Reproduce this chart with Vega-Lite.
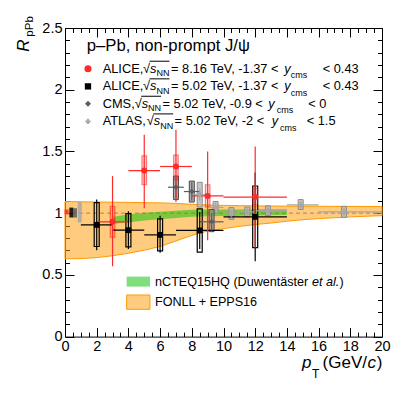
{
  "$schema": "https://vega.github.io/schema/vega-lite/v6.json",
  "width": 317,
  "height": 308.6,
  "autosize": "none",
  "padding": {"left": 65, "top": 28, "right": 25, "bottom": 59.4},
  "background": "white",
  "config": {
    "view": {"stroke": null},
    "font": "Liberation Sans",
    "axis": {"grid": false, "domainColor": "black", "tickColor": "black", "labelColor": "black", "labelFont": "Liberation Sans", "labelFontSize": 14.5, "domainWidth": 1, "tickWidth": 1}
  },
  "resolve": {"axis": {"x": "independent", "y": "independent"}},
  "datasets": {
    "one": [{}],
    "fonll": [
      {"pt": 0, "lo": 0.63, "hi": 1.094}, {"pt": 1, "lo": 0.632, "hi": 1.092}, {"pt": 2, "lo": 0.64, "hi": 1.09},
      {"pt": 3, "lo": 0.655, "hi": 1.089}, {"pt": 4, "lo": 0.675, "hi": 1.087}, {"pt": 5, "lo": 0.7, "hi": 1.085},
      {"pt": 6, "lo": 0.73, "hi": 1.083}, {"pt": 7, "lo": 0.775, "hi": 1.079}, {"pt": 8, "lo": 0.82, "hi": 1.072},
      {"pt": 9, "lo": 0.855, "hi": 1.066}, {"pt": 10, "lo": 0.875, "hi": 1.063}, {"pt": 11, "lo": 0.893, "hi": 1.061},
      {"pt": 12, "lo": 0.908, "hi": 1.059}, {"pt": 13, "lo": 0.92, "hi": 1.058}, {"pt": 14, "lo": 0.935, "hi": 1.057},
      {"pt": 15, "lo": 0.947, "hi": 1.056}, {"pt": 16, "lo": 0.956, "hi": 1.056}, {"pt": 17, "lo": 0.963, "hi": 1.055},
      {"pt": 18, "lo": 0.97, "hi": 1.055}, {"pt": 19, "lo": 0.975, "hi": 1.054}, {"pt": 20, "lo": 0.98, "hi": 1.054}
    ],
    "ncteq": [
      {"pt": 3, "lo": 0.912, "hi": 0.97}, {"pt": 4, "lo": 0.925, "hi": 0.99}, {"pt": 5, "lo": 0.94, "hi": 1.003},
      {"pt": 6, "lo": 0.95, "hi": 1.012}, {"pt": 7, "lo": 0.96, "hi": 1.02}, {"pt": 8, "lo": 0.97, "hi": 1.027},
      {"pt": 9, "lo": 0.975, "hi": 1.029}, {"pt": 10, "lo": 0.978, "hi": 1.03}, {"pt": 11, "lo": 0.98, "hi": 1.03},
      {"pt": 12, "lo": 0.982, "hi": 1.031}, {"pt": 13, "lo": 0.983, "hi": 1.032}, {"pt": 14, "lo": 0.985, "hi": 1.032}
    ],
    "norm": [
      {"series": "ALICE8", "pt": 0.1, "lo": 0.99, "hi": 1.03},
      {"series": "ALICE5", "pt": 0.4, "lo": 0.965, "hi": 1.045},
      {"series": "CMS", "pt": 0.63, "lo": 0.965, "hi": 1.04},
      {"series": "ATLAS", "pt": 0.93, "lo": 0.925, "hi": 1.09}
    ],
    "pts": [
      {"series": "ATLAS", "pt": 8.5, "xlo": 8, "xhi": 9, "r": 1.15, "slo": 1.1, "shi": 1.2, "ylo": 1.05, "yhi": 1.25},
      {"series": "ATLAS", "pt": 9.5, "xlo": 9, "xhi": 10, "r": 1.047, "slo": 1.01, "shi": 1.085, "ylo": 1.0, "yhi": 1.094},
      {"series": "ATLAS", "pt": 10.5, "xlo": 10, "xhi": 11, "r": 1.0, "slo": 0.97, "shi": 1.03, "ylo": 0.95, "yhi": 1.045},
      {"series": "ATLAS", "pt": 11.5, "xlo": 11, "xhi": 12, "r": 1.01, "slo": 0.98, "shi": 1.04, "ylo": 0.97, "yhi": 1.05},
      {"series": "ATLAS", "pt": 12.8, "xlo": 12, "xhi": 14, "r": 1.02, "slo": 0.99, "shi": 1.05, "ylo": 0.98, "yhi": 1.06},
      {"series": "ATLAS", "pt": 14.87, "xlo": 14, "xhi": 16, "r": 1.067, "slo": 1.04, "shi": 1.095, "ylo": 1.03, "yhi": 1.11},
      {"series": "ATLAS", "pt": 17.6, "xlo": 16, "xhi": 20, "r": 1.01, "slo": 0.98, "shi": 1.04, "ylo": 0.965, "yhi": 1.055},
      {"series": "CMS", "pt": 7.0, "xlo": 6.5, "xhi": 7.5, "r": 1.21, "slo": 1.11, "shi": 1.31, "ylo": 1.11, "yhi": 1.3},
      {"series": "CMS", "pt": 8.0, "xlo": 7.5, "xhi": 8.5, "r": 1.175, "slo": 1.1, "shi": 1.25, "ylo": 1.09, "yhi": 1.26},
      {"series": "CMS", "pt": 9.25, "xlo": 8.5, "xhi": 10, "r": 0.93, "slo": 0.86, "shi": 1.0, "ylo": 0.85, "yhi": 1.03},
      {"series": "ALICE5", "pt": 2, "xlo": 1, "xhi": 3, "r": 0.905, "slo": 0.7, "shi": 1.11, "ylo": 0.73, "yhi": 1.086},
      {"series": "ALICE5", "pt": 4, "xlo": 3, "xhi": 5, "r": 0.862, "slo": 0.71, "shi": 1.015, "ylo": 0.727, "yhi": 0.997},
      {"series": "ALICE5", "pt": 6, "xlo": 5, "xhi": 7, "r": 0.824, "slo": 0.68, "shi": 0.98, "ylo": 0.694, "yhi": 0.954},
      {"series": "ALICE5", "pt": 8.5, "xlo": 7, "xhi": 10, "r": 0.86, "slo": 0.71, "shi": 1.01, "ylo": 0.685, "yhi": 1.035},
      {"series": "ALICE5", "pt": 12, "xlo": 10, "xhi": 14, "r": 0.97, "slo": 0.61, "shi": 1.33, "ylo": 0.72, "yhi": 1.22},
      {"series": "ALICE8", "pt": 3, "xlo": 2, "xhi": 4, "r": 0.93, "slo": 0.57, "shi": 1.3, "ylo": 0.805, "yhi": 1.055},
      {"series": "ALICE8", "pt": 5, "xlo": 4, "xhi": 6, "r": 1.345, "slo": 1.04, "shi": 1.635, "ylo": 1.23, "yhi": 1.465},
      {"series": "ALICE8", "pt": 7, "xlo": 6, "xhi": 8, "r": 1.378, "slo": 1.09, "shi": 1.675, "ylo": 1.27, "yhi": 1.47},
      {"series": "ALICE8", "pt": 9, "xlo": 8, "xhi": 10, "r": 1.14, "slo": 0.78, "shi": 1.5, "ylo": 1.05, "yhi": 1.23},
      {"series": "ALICE8", "pt": 12, "xlo": 10, "xhi": 14, "r": 1.13, "slo": 0.72, "shi": 1.54, "ylo": 1.07, "yhi": 1.2}
    ],
    "legn": [
      {"x": 2.378, "y": 2.17, "t": "ALICE,"}, {"x": 4.921, "y": 2.17, "t": "√"}, {"x": 6.688, "y": 2.17, "t": "= 8.16 TeV, -1.37 <"}, {"x": 16.259, "y": 2.17, "t": "< 0.43"},
      {"x": 2.378, "y": 2.027, "t": "ALICE,"}, {"x": 4.921, "y": 2.027, "t": "√"}, {"x": 6.688, "y": 2.027, "t": "= 5.02 TeV, -1.37 <"}, {"x": 16.259, "y": 2.027, "t": "< 0.43"},
      {"x": 2.378, "y": 1.886, "t": "CMS,"}, {"x": 4.397, "y": 1.886, "t": "√"}, {"x": 6.151, "y": 1.886, "t": "= 5.02 TeV, -0.9 <"}, {"x": 15.35, "y": 1.886, "t": "< 0"},
      {"x": 2.378, "y": 1.743, "t": "ATLAS,"}, {"x": 5.158, "y": 1.743, "t": "√"}, {"x": 6.915, "y": 1.743, "t": "= 5.02 TeV, -2 <"}, {"x": 15.249, "y": 1.743, "t": "< 1.5"}
    ],
    "legi": [
      {"x": 5.363, "y": 2.17, "t": "s"}, {"x": 13.836, "y": 2.17, "t": "y"},
      {"x": 5.363, "y": 2.027, "t": "s"}, {"x": 13.836, "y": 2.027, "t": "y"},
      {"x": 4.839, "y": 1.886, "t": "s"}, {"x": 12.826, "y": 1.886, "t": "y"},
      {"x": 5.6, "y": 1.743, "t": "s"}, {"x": 13.041, "y": 1.743, "t": "y"}
    ],
    "legs": [
      {"x": 5.773, "y": 2.134, "t": "NN"}, {"x": 14.24, "y": 2.12, "t": "cms"},
      {"x": 5.773, "y": 1.991, "t": "NN"}, {"x": 14.24, "y": 1.977, "t": "cms"},
      {"x": 5.243, "y": 1.85, "t": "NN"}, {"x": 13.356, "y": 1.836, "t": "cms"},
      {"x": 6.006, "y": 1.707, "t": "NN"}, {"x": 13.565, "y": 1.693, "t": "cms"}
    ],
    "overl": [
      {"x": 5.331, "x2": 6.593, "y": 2.231},
      {"x": 5.331, "x2": 6.593, "y": 2.088},
      {"x": 4.808, "x2": 6.063, "y": 1.947},
      {"x": 5.571, "x2": 6.826, "y": 1.804}
    ],
    "bandn": [
      {"x": 5.68, "y": 0.445, "t": "nCTEQ15HQ (Duwentäster"}, {"x": 17.32, "y": 0.445, "t": ")"},
      {"x": 5.68, "y": 0.278, "t": "FONLL + EPPS16"}
    ],
    "bandi": [{"x": 15.58, "y": 0.445, "t": "et al."}],
    "xtn": [{"x": 16.25, "y": -0.255, "t": "(GeV/"}],
    "xti": [{"x": 14.95, "y": -0.255, "t": "p"}, {"x": 19.08, "y": -0.255, "t": "c"}]
  },
  "layer": [
    {
      "data": {"name": "one"},
      "mark": {"type": "rule", "color": "#8a8a8a", "strokeDash": [4, 3], "strokeWidth": 1.3},
      "encoding": {
        "x": {"datum": 0, "type": "quantitative", "axis": null},
        "x2": {"datum": 20},
        "y": {"datum": 1, "type": "quantitative", "axis": null}
      }
    },
    {
      "data": {"name": "fonll"},
      "mark": {"type": "area", "fill": "#ff9900", "fillOpacity": 0.5, "stroke": "#ff9900", "strokeWidth": 1},
      "encoding": {
        "x": {"field": "pt", "type": "quantitative", "scale": {"domain": [0, 20], "nice": false, "zero": false, "padding": 0},
              "axis": {"orient": "bottom", "title": null, "values": [0, 2, 4, 6, 8, 10, 12, 14, 16, 18, 20], "tickSize": -9, "labelPadding": 12, "format": "~g", "labelFlush": false}},
        "y": {"field": "lo", "type": "quantitative", "scale": {"domain": [0, 2.5], "nice": false, "zero": false, "padding": 0},
              "axis": {"orient": "left", "title": null, "values": [0, 0.5, 1, 1.5, 2, 2.5], "tickSize": -9, "labelPadding": 12, "format": "~g", "labelFlush": false}},
        "y2": {"field": "hi"}
      }
    },
    {
      "data": {"name": "ncteq"},
      "mark": {"type": "area", "fill": "#00c000", "fillOpacity": 0.5},
      "encoding": {
        "x": {"field": "pt", "type": "quantitative",
              "axis": {"orient": "bottom", "title": null, "values": [0.5,1,1.5,2.5,3,3.5,4.5,5,5.5,6.5,7,7.5,8.5,9,9.5,10.5,11,11.5,12.5,13,13.5,14.5,15,15.5,16.5,17,17.5,18.5,19,19.5], "tickSize": -4.5, "labels": false, "domain": false}},
        "y": {"field": "lo", "type": "quantitative",
              "axis": {"orient": "left", "title": null, "values": [0.1,0.2,0.3,0.4,0.6,0.7,0.8,0.9,1.1,1.2,1.3,1.4,1.6,1.7,1.8,1.9,2.1,2.2,2.3,2.4], "tickSize": -4.5, "labels": false, "domain": false}},
        "y2": {"field": "hi"}
      }
    },
    {
      "data": {"name": "norm"},
      "mark": {"type": "bar", "width": 4, "opacity": 0.85},
      "encoding": {
        "x": {"field": "pt", "type": "quantitative",
              "axis": {"orient": "top", "title": null, "values": [0, 2, 4, 6, 8, 10, 12, 14, 16, 18, 20], "tickSize": -9, "labels": false}},
        "y": {"field": "lo", "type": "quantitative",
              "axis": {"orient": "right", "title": null, "values": [0, 0.5, 1, 1.5, 2, 2.5], "tickSize": -9, "labels": false}},
        "y2": {"field": "hi"},
        "color": {"field": "series", "type": "nominal", "legend": null,
                  "scale": {"domain": ["ATLAS", "CMS", "ALICE5", "ALICE8"], "range": ["#a6a6a6", "#5c5c5c", "#000000", "#ff2a2a"]}}
      }
    },
    {
      "data": {"name": "pts"},
      "transform": [{"filter": "datum.series == 'ATLAS'"}],
      "mark": {"type": "bar", "width": 5, "fill": "#b8b8b8", "fillOpacity": 0.8, "stroke": "#8c8c8c", "strokeWidth": 1},
      "encoding": {
        "x": {"field": "pt", "type": "quantitative",
              "axis": {"orient": "top", "title": null, "values": [0.5,1,1.5,2.5,3,3.5,4.5,5,5.5,6.5,7,7.5,8.5,9,9.5,10.5,11,11.5,12.5,13,13.5,14.5,15,15.5,16.5,17,17.5,18.5,19,19.5], "tickSize": -4.5, "labels": false, "domain": false}},
        "y": {"field": "ylo", "type": "quantitative",
              "axis": {"orient": "right", "title": null, "values": [0.1,0.2,0.3,0.4,0.6,0.7,0.8,0.9,1.1,1.2,1.3,1.4,1.6,1.7,1.8,1.9,2.1,2.2,2.3,2.4], "tickSize": -4.5, "labels": false, "domain": false}},
        "y2": {"field": "yhi"}
      }
    },
    {
      "data": {"name": "pts"},
      "transform": [{"filter": "datum.series == 'CMS'"}],
      "mark": {"type": "bar", "width": 5, "fill": "#8c8c8c", "fillOpacity": 0.7, "stroke": "#4a4a4a", "strokeWidth": 1},
      "encoding": {
        "x": {"field": "pt", "type": "quantitative", "axis": null},
        "y": {"field": "ylo", "type": "quantitative", "axis": null},
        "y2": {"field": "yhi"}
      }
    },
    {
      "data": {"name": "pts"},
      "transform": [{"filter": "datum.series == 'ALICE5'"}],
      "mark": {"type": "bar", "width": 5, "fill": "white", "fillOpacity": 0, "stroke": "#000000", "strokeWidth": 1.2},
      "encoding": {
        "x": {"field": "pt", "type": "quantitative", "axis": null},
        "y": {"field": "ylo", "type": "quantitative", "axis": null},
        "y2": {"field": "yhi"}
      }
    },
    {
      "data": {"name": "pts"},
      "transform": [{"filter": "datum.series == 'ALICE8'"}],
      "mark": {"type": "bar", "width": 4.5, "fill": "#ff0000", "fillOpacity": 0.15, "stroke": "#ff0000", "strokeOpacity": 0.5, "strokeWidth": 1.2},
      "encoding": {
        "x": {"field": "pt", "type": "quantitative", "axis": null},
        "y": {"field": "ylo", "type": "quantitative", "axis": null},
        "y2": {"field": "yhi"}
      }
    },
    {
      "data": {"name": "pts"},
      "mark": {"type": "rule", "strokeWidth": 1.2},
      "encoding": {
        "x": {"field": "xlo", "type": "quantitative", "axis": null},
        "x2": {"field": "xhi"},
        "y": {"field": "r", "type": "quantitative", "axis": null},
        "color": {"field": "series", "type": "nominal", "legend": null,
                  "scale": {"domain": ["ATLAS", "CMS", "ALICE5", "ALICE8"], "range": ["#a6a6a6", "#5c5c5c", "#000000", "#ff2a2a"]}}
      }
    },
    {
      "data": {"name": "pts"},
      "mark": {"type": "rule", "strokeWidth": 1.2},
      "encoding": {
        "x": {"field": "pt", "type": "quantitative", "axis": null},
        "y": {"field": "slo", "type": "quantitative", "axis": null},
        "y2": {"field": "shi"},
        "color": {"field": "series", "type": "nominal", "legend": null,
                  "scale": {"domain": ["ATLAS", "CMS", "ALICE5", "ALICE8"], "range": ["#a6a6a6", "#5c5c5c", "#000000", "#ff2a2a"]}}
      }
    },
    {
      "data": {"name": "pts"},
      "mark": {"type": "point", "filled": true, "opacity": 1},
      "encoding": {
        "x": {"field": "pt", "type": "quantitative", "axis": null},
        "y": {"field": "r", "type": "quantitative", "axis": null},
        "color": {"field": "series", "type": "nominal", "legend": null,
                  "scale": {"domain": ["ATLAS", "CMS", "ALICE5", "ALICE8"], "range": ["#a6a6a6", "#5c5c5c", "#000000", "#ff2a2a"]}},
        "shape": {"field": "series", "type": "nominal", "legend": null,
                  "scale": {"domain": ["ATLAS", "CMS", "ALICE5", "ALICE8"], "range": ["cross", "diamond", "square", "circle"]}},
        "size": {"field": "series", "type": "nominal", "legend": null,
                 "scale": {"domain": ["ATLAS", "CMS", "ALICE5", "ALICE8"], "range": [28, 36, 40, 50]}}
      }
    },
    {
      "data": {"name": "one"},
      "mark": {"type": "point", "filled": true, "shape": "circle", "size": 50, "color": "#ff2a2a", "opacity": 1},
      "encoding": {"x": {"datum": 1.45, "type": "quantitative", "axis": null}, "y": {"datum": 2.17, "type": "quantitative", "axis": null}}
    },
    {
      "data": {"name": "one"},
      "mark": {"type": "point", "filled": true, "shape": "square", "size": 40, "color": "#000000", "opacity": 1},
      "encoding": {"x": {"datum": 1.45, "type": "quantitative", "axis": null}, "y": {"datum": 2.027, "type": "quantitative", "axis": null}}
    },
    {
      "data": {"name": "one"},
      "mark": {"type": "point", "filled": true, "shape": "diamond", "size": 36, "color": "#5c5c5c", "opacity": 1},
      "encoding": {"x": {"datum": 1.45, "type": "quantitative", "axis": null}, "y": {"datum": 1.886, "type": "quantitative", "axis": null}}
    },
    {
      "data": {"name": "one"},
      "mark": {"type": "point", "filled": true, "shape": "cross", "size": 28, "color": "#a6a6a6", "opacity": 1},
      "encoding": {"x": {"datum": 1.45, "type": "quantitative", "axis": null}, "y": {"datum": 1.743, "type": "quantitative", "axis": null}}
    },
    {
      "data": {"name": "one"},
      "mark": {"type": "text", "text": "p–Pb, non-prompt J/ψ", "fontSize": 16.7, "align": "left", "baseline": "middle", "color": "black"},
      "encoding": {"x": {"datum": 1.37, "type": "quantitative", "axis": null}, "y": {"datum": 2.351, "type": "quantitative", "axis": null}}
    },
    {
      "data": {"name": "legn"},
      "mark": {"type": "text", "fontSize": 12.8, "align": "left", "baseline": "middle", "color": "black"},
      "encoding": {"x": {"field": "x", "type": "quantitative", "axis": null}, "y": {"field": "y", "type": "quantitative", "axis": null}, "text": {"field": "t"}}
    },
    {
      "data": {"name": "legi"},
      "mark": {"type": "text", "fontSize": 12.8, "fontStyle": "italic", "align": "left", "baseline": "middle", "color": "black"},
      "encoding": {"x": {"field": "x", "type": "quantitative", "axis": null}, "y": {"field": "y", "type": "quantitative", "axis": null}, "text": {"field": "t"}}
    },
    {
      "data": {"name": "legs"},
      "mark": {"type": "text", "fontSize": 9, "align": "left", "baseline": "middle", "color": "black"},
      "encoding": {"x": {"field": "x", "type": "quantitative", "axis": null}, "y": {"field": "y", "type": "quantitative", "axis": null}, "text": {"field": "t"}}
    },
    {
      "data": {"name": "overl"},
      "mark": {"type": "rule", "color": "black", "strokeWidth": 1},
      "encoding": {"x": {"field": "x", "type": "quantitative", "axis": null}, "x2": {"field": "x2"}, "y": {"field": "y", "type": "quantitative", "axis": null}}
    },
    {
      "data": {"name": "one"},
      "mark": {"type": "rect", "fill": "#00c000", "fillOpacity": 0.5},
      "encoding": {"x": {"datum": 3.89, "type": "quantitative", "axis": null}, "x2": {"datum": 5.36}, "y": {"datum": 0.405, "type": "quantitative", "axis": null}, "y2": {"datum": 0.486}}
    },
    {
      "data": {"name": "one"},
      "mark": {"type": "rect", "fill": "#ff9900", "fillOpacity": 0.5, "stroke": "#ff9900", "strokeWidth": 1},
      "encoding": {"x": {"datum": 3.89, "type": "quantitative", "axis": null}, "x2": {"datum": 5.36}, "y": {"datum": 0.221, "type": "quantitative", "axis": null}, "y2": {"datum": 0.337}}
    },
    {
      "data": {"name": "bandn"},
      "mark": {"type": "text", "fontSize": 12.6, "align": "left", "baseline": "middle", "color": "black"},
      "encoding": {"x": {"field": "x", "type": "quantitative", "axis": null}, "y": {"field": "y", "type": "quantitative", "axis": null}, "text": {"field": "t"}}
    },
    {
      "data": {"name": "bandi"},
      "mark": {"type": "text", "fontSize": 12.6, "fontStyle": "italic", "align": "left", "baseline": "middle", "color": "black"},
      "encoding": {"x": {"field": "x", "type": "quantitative", "axis": null}, "y": {"field": "y", "type": "quantitative", "axis": null}, "text": {"field": "t"}}
    },
    {
      "data": {"name": "xtn"},
      "mark": {"type": "text", "fontSize": 17, "align": "left", "baseline": "alphabetic", "color": "black"},
      "encoding": {"x": {"field": "x", "type": "quantitative", "axis": null}, "y": {"field": "y", "type": "quantitative", "axis": null}, "text": {"field": "t"}}
    },
    {
      "data": {"name": "xti"},
      "mark": {"type": "text", "fontSize": 17, "fontStyle": "italic", "align": "left", "baseline": "alphabetic", "color": "black"},
      "encoding": {"x": {"field": "x", "type": "quantitative", "axis": null}, "y": {"field": "y", "type": "quantitative", "axis": null}, "text": {"field": "t"}}
    },
    {
      "data": {"name": "one"},
      "mark": {"type": "text", "text": ")", "fontSize": 17, "align": "right", "baseline": "alphabetic", "color": "black"},
      "encoding": {"x": {"datum": 20.02, "type": "quantitative", "axis": null}, "y": {"datum": -0.255, "type": "quantitative", "axis": null}}
    },
    {
      "data": {"name": "one"},
      "mark": {"type": "text", "text": "T", "fontSize": 12, "align": "left", "baseline": "alphabetic", "color": "black"},
      "encoding": {"x": {"datum": 15.58, "type": "quantitative", "axis": null}, "y": {"datum": -0.336, "type": "quantitative", "axis": null}}
    },
    {
      "data": {"name": "one"},
      "mark": {"type": "text", "text": "R", "fontSize": 17, "fontStyle": "italic", "angle": 270, "align": "left", "baseline": "alphabetic", "color": "black"},
      "encoding": {"x": {"datum": -2.27, "type": "quantitative", "axis": null}, "y": {"datum": 2.308, "type": "quantitative", "axis": null}}
    },
    {
      "data": {"name": "one"},
      "mark": {"type": "text", "text": "pPb", "fontSize": 11.5, "angle": 270, "align": "left", "baseline": "alphabetic", "color": "black"},
      "encoding": {"x": {"datum": -2.02, "type": "quantitative", "axis": null}, "y": {"datum": 2.43, "type": "quantitative", "axis": null}}
    }
  ]
}
